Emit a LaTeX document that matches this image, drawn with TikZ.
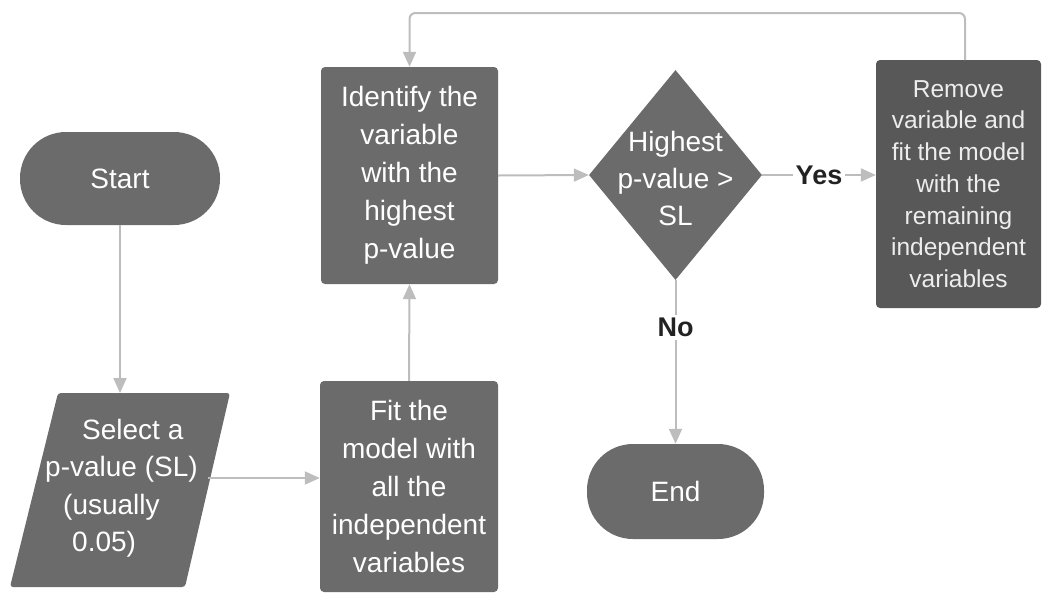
\documentclass[tikz,border=0pt]{standalone}
\usepackage{fontspec}
\setmainfont{Liberation Sans}
\usetikzlibrary{arrows.meta,shapes.geometric}
\definecolor{boxgray}{HTML}{6B6B6B}
\definecolor{boxdark}{HTML}{585858}
\definecolor{linegray}{HTML}{BDBDBD}
\definecolor{labeltext}{HTML}{222222}
\begin{document}
\begin{tikzpicture}[x=1pt,y=-1pt,
  box/.style={draw=none,fill=boxgray,text=white,rounded corners=4pt,inner sep=0pt,
    align=center,font=\fontsize{28}{38}\selectfont},
  term/.style={box,rounded corners=46pt},
  arr/.style={draw=linegray,line width=2pt,-{Triangle[length=15pt,width=13pt]}},
  plain/.style={draw=linegray,line width=2pt},
  lbl/.style={fill=white,text=labeltext,inner sep=3pt,font=\fontsize{27}{32}\bfseries\selectfont}]
\useasboundingbox (0,0) rectangle (1043,595);

% terminals
\node[term,minimum width=200pt,minimum height=93pt] (start) at (120,178.5) {Start};
\node[term,minimum width=177pt,minimum height=95pt] (end) at (675.5,491.5) {End};

% input parallelogram
\fill[boxgray,rounded corners=3pt] (58,393) -- (230,393) -- (185,587) -- (10,587) -- cycle;
\node[text=white,inner sep=0pt,anchor=west,align=left,font=\fontsize{28}{37.5}\selectfont]
  (select) at (45,488) {\hspace*{37pt}Select a\\p-value (SL)\\\hspace*{18pt}(usually\\\hspace*{27pt}0.05)};
\coordinate (seltop) at (120,393);
\coordinate (selright) at (208,478);

% process boxes
\node[box,minimum width=178pt,minimum height=211pt] (fit) at (409,486.5)
  {Fit the\\model with\\all the\\independent\\variables};
\node[box,minimum width=177pt,minimum height=217pt] (identify) at (409.5,175.5)
  {Identify the\\variable\\with the\\highest\\p-value};
\node[box,fill=boxdark,text=white!93!black,minimum width=165pt,minimum height=248pt,
  font=\fontsize{24.5}{31.7}\selectfont] (remove) at (958.5,184)
  {Remove\\variable and\\fit the model\\with the\\remaining\\independent\\variables};

% decision
\node[diamond,fill=boxgray,draw=none,inner sep=0pt,aspect=0.824,
  minimum width=173pt,minimum height=210pt] (dec) at (675.5,175) {};
\node[text=white,align=center,inner sep=0pt,font=\fontsize{28}{37}\selectfont]
  (dectext) at (675.5,178) {Highest\\p-value >\\SL};

% connectors
\draw[arr] (start.south) -- (seltop);
\draw[arr] (selright) -- (selright -| fit.west);
\draw[arr] (fit.north) -- (identify.south);
\draw[arr] (identify.east) -- (dec.west);
\draw[arr] (dec.east) -- (remove.west |- dec.east) node[lbl,midway] (yes) {Yes};
\draw[arr] (dec.south) -- (end.north) node[lbl,pos=0.29] (no) {No};
\coordinate (rtop) at (965,60);
\coordinate (ltop) at (409.5,13);
\draw[arr,rounded corners=6pt] (rtop) |- (ltop) -- (identify.north);
\end{tikzpicture}
\end{document}
